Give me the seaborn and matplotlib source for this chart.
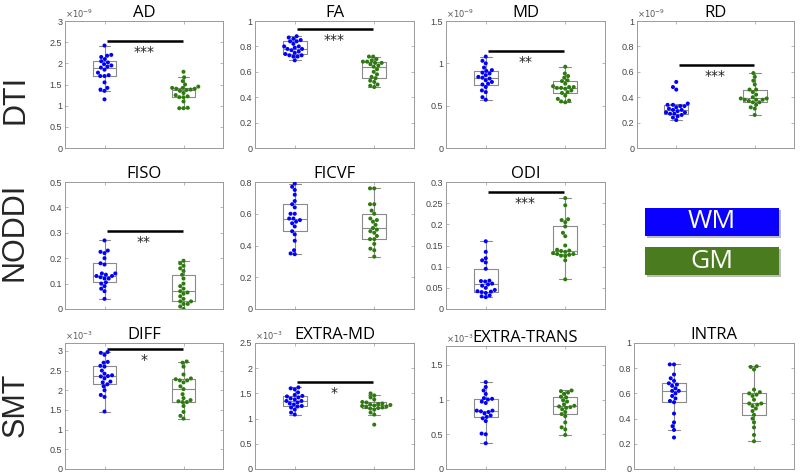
import matplotlib
matplotlib.use("Agg")
import matplotlib.pyplot as plt
from matplotlib.patches import Rectangle
from matplotlib.ticker import FormatStrFormatter
import seaborn as sns
import pandas as pd

# ---------------- data ----------------
groups = ["WM", "GM"]

ad_wm = [1.15, 1.35, 1.38, 1.42, 1.55, 1.70, 1.70, 1.72, 1.78, 1.85, 1.90, 1.92, 1.95, 1.98, 2.02, 2.05, 2.10, 2.15, 2.18, 2.20, 2.42]
ad_gm = [0.94, 0.94, 0.95, 1.10, 1.20, 1.20, 1.22, 1.25, 1.30, 1.35, 1.37, 1.38, 1.40, 1.40, 1.42, 1.42, 1.45, 1.50, 1.58, 1.67, 1.80]
fa_wm = [0.69, 0.72, 0.72, 0.73, 0.73, 0.74, 0.75, 0.76, 0.77, 0.78, 0.78, 0.79, 0.80, 0.80, 0.82, 0.84, 0.84, 0.85, 0.86, 0.87, 0.88]
fa_gm = [0.48, 0.49, 0.50, 0.52, 0.53, 0.55, 0.56, 0.58, 0.60, 0.62, 0.64, 0.65, 0.66, 0.67, 0.67, 0.68, 0.68, 0.69, 0.70, 0.72, 0.72]
md_wm = [0.57, 0.60, 0.66, 0.68, 0.72, 0.75, 0.76, 0.78, 0.80, 0.82, 0.83, 0.84, 0.86, 0.88, 0.89, 0.91, 0.92, 0.95, 1.00, 1.03, 1.08]
md_gm = [0.54, 0.55, 0.56, 0.58, 0.62, 0.65, 0.66, 0.68, 0.70, 0.71, 0.71, 0.72, 0.72, 0.73, 0.76, 0.79, 0.80, 0.83, 0.85, 0.88, 0.96]
rd_wm = [0.22, 0.24, 0.25, 0.26, 0.27, 0.27, 0.28, 0.28, 0.29, 0.30, 0.30, 0.31, 0.32, 0.33, 0.33, 0.34, 0.34, 0.35, 0.46, 0.48, 0.52]
rd_gm = [0.26, 0.31, 0.32, 0.34, 0.36, 0.36, 0.37, 0.38, 0.38, 0.38, 0.39, 0.39, 0.40, 0.42, 0.44, 0.46, 0.46, 0.50, 0.53, 0.56, 0.59]
fiso_wm = [0.04, 0.07, 0.08, 0.09, 0.10, 0.105, 0.12, 0.12, 0.125, 0.13, 0.13, 0.135, 0.14, 0.14, 0.175, 0.18, 0.20, 0.22, 0.225, 0.23, 0.27]
fiso_gm = [0.00, 0.01, 0.02, 0.02, 0.03, 0.03, 0.04, 0.05, 0.06, 0.065, 0.07, 0.08, 0.09, 0.10, 0.12, 0.135, 0.15, 0.16, 0.17, 0.18, 0.19]
ficvf_wm = [0.345, 0.35, 0.37, 0.43, 0.47, 0.49, 0.52, 0.54, 0.55, 0.56, 0.57, 0.57, 0.60, 0.60, 0.64, 0.66, 0.68, 0.72, 0.75, 0.77, 0.79]
ficvf_gm = [0.33, 0.37, 0.38, 0.41, 0.44, 0.44, 0.46, 0.48, 0.49, 0.50, 0.51, 0.53, 0.55, 0.56, 0.57, 0.60, 0.62, 0.66, 0.66, 0.76, 0.76]
odi_wm = [0.028, 0.030, 0.032, 0.038, 0.040, 0.041, 0.042, 0.045, 0.050, 0.055, 0.058, 0.060, 0.065, 0.066, 0.067, 0.095, 0.110, 0.115, 0.120, 0.135, 0.160]
odi_gm = [0.070, 0.115, 0.125, 0.126, 0.128, 0.130, 0.130, 0.132, 0.135, 0.137, 0.138, 0.140, 0.150, 0.172, 0.180, 0.195, 0.205, 0.210, 0.212, 0.245, 0.262]
diff_wm = [1.46, 1.83, 1.88, 2.00, 2.10, 2.15, 2.20, 2.22, 2.30, 2.35, 2.36, 2.38, 2.42, 2.50, 2.60, 2.62, 2.70, 2.72, 2.90, 2.95, 2.97]
diff_gm = [1.28, 1.35, 1.45, 1.60, 1.70, 1.70, 1.72, 1.75, 1.80, 1.90, 2.03, 2.10, 2.20, 2.25, 2.25, 2.28, 2.30, 2.40, 2.60, 2.70, 2.73]
emd_wm = [1.08, 1.12, 1.18, 1.22, 1.24, 1.25, 1.28, 1.30, 1.32, 1.35, 1.35, 1.38, 1.40, 1.42, 1.44, 1.45, 1.47, 1.52, 1.58, 1.60, 1.62]
emd_gm = [0.88, 1.08, 1.12, 1.18, 1.20, 1.21, 1.22, 1.23, 1.24, 1.25, 1.26, 1.27, 1.28, 1.29, 1.30, 1.32, 1.33, 1.38, 1.42, 1.46, 1.50]
etr_wm = [0.37, 0.50, 0.51, 0.69, 0.73, 0.75, 0.77, 0.80, 0.82, 0.83, 0.84, 0.84, 0.95, 0.97, 1.00, 1.01, 1.02, 1.08, 1.13, 1.18, 1.25]
etr_gm = [0.49, 0.57, 0.60, 0.67, 0.76, 0.79, 0.82, 0.86, 0.88, 0.89, 0.90, 0.91, 0.93, 0.97, 0.99, 1.03, 1.04, 1.08, 1.10, 1.12, 1.13]
intra_wm = [0.25, 0.31, 0.34, 0.37, 0.44, 0.53, 0.54, 0.56, 0.58, 0.60, 0.62, 0.62, 0.64, 0.66, 0.67, 0.68, 0.70, 0.72, 0.75, 0.83, 0.83]
intra_gm = [0.22, 0.27, 0.33, 0.37, 0.40, 0.43, 0.46, 0.48, 0.50, 0.51, 0.52, 0.52, 0.55, 0.58, 0.59, 0.60, 0.61, 0.63, 0.79, 0.81, 0.815]

titles = ["AD", "FA", "MD", "RD", "FISO", "FICVF", "ODI", "DIFF", "EXTRA-MD", "EXTRA-TRANS", "INTRA"]
wm_sets = [ad_wm, fa_wm, md_wm, rd_wm, fiso_wm, ficvf_wm, odi_wm, diff_wm, emd_wm, etr_wm, intra_wm]
gm_sets = [ad_gm, fa_gm, md_gm, rd_gm, fiso_gm, ficvf_gm, odi_gm, diff_gm, emd_gm, etr_gm, intra_gm]
y_max = [3, 1, 1.5, 1, 0.5, 0.8, 0.3, 3.2, 2.5, 1.77, 1]
y_step = [0.5, 0.2, 0.5, 0.2, 0.1, 0.2, 0.05, 0.5, 0.5, 0.5, 0.2]
exponents = ["-9", None, "-9", "-9", None, None, None, "-3", "-3", "-3", None]
sig_level = [2.53, 0.935, 1.15, 0.655, 0.307, None, 0.276, 3.06, 1.73, None, None]
sig_stars = ["***", "***", "**", "***", "**", None, "***", "*", "*", None, None]
row_labels = ["DTI", "NODDI", "SMT"]

# ---------------- styling / layout ----------------
sns.set_style("white")
plt.rcParams["font.family"] = ["Liberation Sans", "DejaVu Sans"]

W, H = 800, 476
fig = plt.figure(figsize=(W / 100, H / 100), dpi=100)

# axes boxes in pixels: (left, top, right, bottom)
boxes = [
    (65, 21, 223, 148), (255, 21, 414, 148), (446, 21, 605, 148), (637, 21, 794, 148),
    (65, 182, 223, 309), (255, 182, 414, 309), (446, 182, 605, 309),
    (65, 343, 223, 469), (255, 343, 414, 469), (446, 346, 605, 469), (634, 343, 794, 469),
]

blue = "#0000ff"
green = "#2d7a0e"
palette = {"WM": blue, "GM": green}
edge = "#8a8a8a"

for i, (l, t, r, b) in enumerate(boxes):
    ax = fig.add_axes([l / W, 1 - b / H, (r - l) / W, (b - t) / H])
    df = pd.DataFrame({
        "group": ["WM"] * len(wm_sets[i]) + ["GM"] * len(gm_sets[i]),
        "value": list(wm_sets[i]) + list(gm_sets[i]),
    })
    sns.boxplot(data=df, x="group", y="value", order=groups, width=0.3,
                fill=False, color=edge, linewidth=0.8, showfliers=False,
                whis=1.5, ax=ax)
    sns.swarmplot(data=df, x="group", y="value", order=groups, hue="group",
                  palette=palette, size=2.9, ax=ax, legend=False, linewidth=0)
    ax.set_xlim(-0.5, 1.5)
    ax.set_ylim(0, y_max[i])
    ticks = []
    v = 0.0
    while v <= y_max[i] + 1e-9:
        ticks.append(round(v, 4))
        v += y_step[i]
    ax.set_yticks(ticks)
    ax.yaxis.set_major_formatter(FormatStrFormatter("%g"))
    ax.set_xticks([0, 1])
    ax.set_xticklabels([])
    ax.set_xlabel("")
    ax.set_ylabel("")
    ax.tick_params(direction="in", length=2.5, width=0.5, color="#999999",
                   top=True, right=True, left=True, bottom=True,
                   labelsize=6.5, labelcolor="#444444", pad=2)
    for s in ax.spines.values():
        s.set_color("#9a9a9a")
        s.set_linewidth(0.7)
    ax.set_title(titles[i], fontsize=12, family=["Open Sans", "DejaVu Sans"],
                 pad=2, color="black")
    if exponents[i]:
        ax.text(0.0, 1.005, r"$\times10^{%s}$" % exponents[i], transform=ax.transAxes,
                ha="left", va="bottom", fontsize=6, color="#555555")
    if sig_level[i] is not None:
        ax.plot([0.03, 0.99], [sig_level[i], sig_level[i]], color="black", lw=1.8,
                solid_capstyle="butt")
        ax.annotate(sig_stars[i], xy=(0.5, sig_level[i]), xytext=(0, -3),
                    textcoords="offset points", ha="center", va="top",
                    fontsize=10, color="#222222", family="DejaVu Sans")

# row labels
for lab, (x, y) in zip(row_labels, [(15, 99), (15, 232), (16, 405)]):
    fig.text(x / W, 1 - y / H, lab, rotation=90, ha="center", va="center",
             fontsize=22, family=["Liberation Sans", "DejaVu Sans"])

# legend boxes
for lab, col, (l, t, r, b) in [("WM", "#0a00ff", (645, 208, 779, 236)),
                               ("GM", "#4a7b1f", (645, 247, 779, 275))]:
    fig.add_artist(Rectangle(((l + 2) / W, 1 - (b + 2) / H), (r - l) / W, (b - t) / H,
                             transform=fig.transFigure, facecolor="#bbbbbb",
                             edgecolor="none", zorder=1))
    fig.add_artist(Rectangle((l / W, 1 - b / H), (r - l) / W, (b - t) / H,
                             transform=fig.transFigure, facecolor=col,
                             edgecolor="none", zorder=2))
    fig.text((l + r) / 2 / W, 1 - (t + b) / 2 / H, lab, ha="center", va="center",
             color="white", fontsize=19, family=["Open Sans", "DejaVu Sans"], zorder=3)

fig.savefig("out.png", dpi=100)
